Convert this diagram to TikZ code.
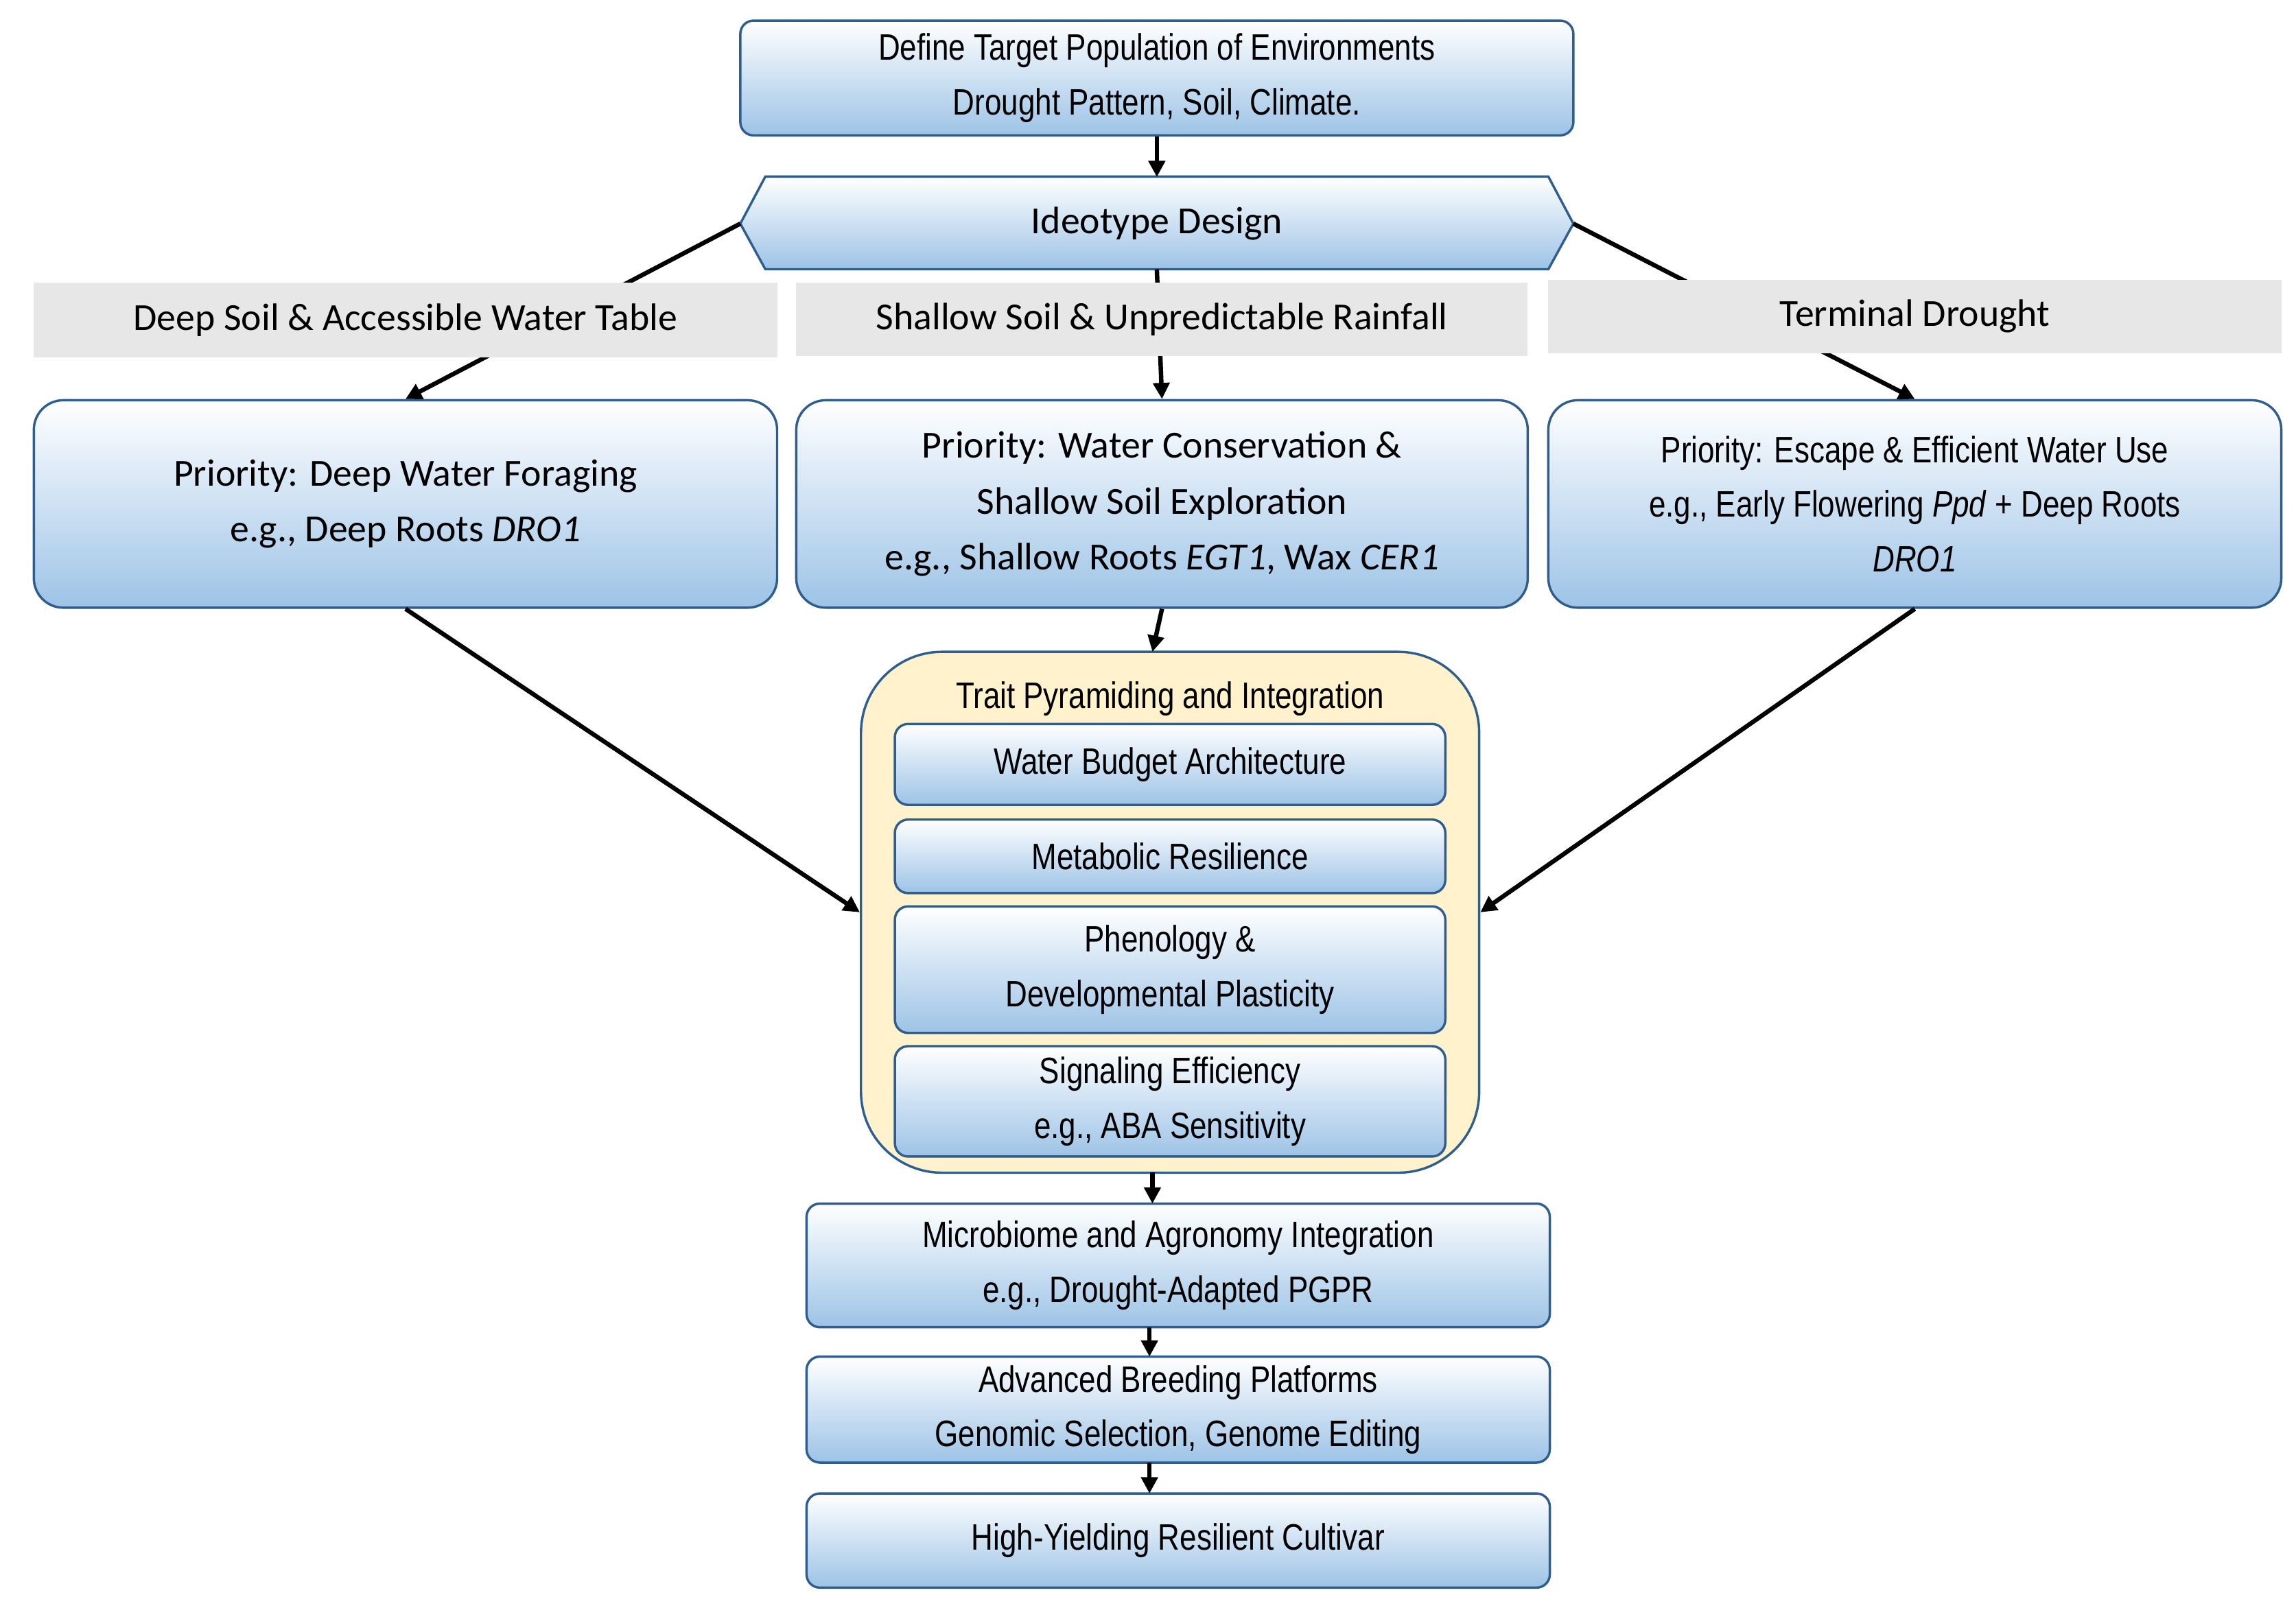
\documentclass[tikz,border=0pt]{standalone}
\usepackage{fontspec}
\setmainfont{Carlito}
\newfontfamily\nar{Liberation Sans}[FakeStretch=0.82]
\usetikzlibrary{arrows.meta}
\definecolor{bord}{HTML}{2E5D8E}
\definecolor{bluebot}{HTML}{9DC3E6}
\definecolor{graylab}{HTML}{E7E7E7}
\definecolor{yell}{HTML}{FFF2CC}
\begin{document}
\begin{tikzpicture}[x=1pt,y=-1pt,
  box/.style={draw=bord,line width=1.6pt,rounded corners=9pt,top color=white,bottom color=bluebot,align=center,font=\nar\fontsize{25}{37}\selectfont,inner sep=0pt},
  pbox/.style={box,rounded corners=20pt},
  glab/.style={fill=graylab,inner sep=0pt,font=\fontsize{26}{32}\selectfont},
  arr/.style={line width=3pt,-{Triangle[length=11pt,width=11pt]}}]
\useasboundingbox (0,0) rectangle (1560,1085);
% top
\node[box,minimum width=566pt,minimum height=78pt] (b1) at (786,53) {Define Target Population of Environments\\Drought Pattern, Soil, Climate.};
% hexagon
\coordinate (hw) at (503,152); \coordinate (he) at (1069,152);
\path[draw=bord,line width=1.6pt,top color=white,bottom color=bluebot] (hw) -- (520,120) -- (1052,120) -- (he) -- (1052,183) -- (520,183) -- cycle;
\node[font=\fontsize{26}{32}\selectfont,minimum width=500pt,minimum height=63pt,inner sep=0pt] (hex) at (786,152) {Ideotype Design};
\draw[arr] (b1.south) -- (hex.north);
% priority boxes
\node[pbox,font=\fontsize{26}{38}\selectfont,minimum width=505pt,minimum height=141pt] (p1) at (275.5,342.5) {Priority: Deep Water Foraging\\e.g., Deep Roots \textit{DRO1}};
\node[pbox,font=\fontsize{26}{38}\selectfont,minimum width=497pt,minimum height=141pt] (p2) at (789.5,342.5) {Priority: Water Conservation \&\\Shallow Soil Exploration\\e.g., Shallow Roots \textit{EGT1}, Wax \textit{CER1}};
\node[pbox,minimum width=498pt,minimum height=141pt] (p3) at (1301,342.5) {Priority: Escape \& Efficient Water Use\\e.g., Early Flowering \textit{Ppd} + Deep Roots\\\textit{DRO1}};
\draw[arr] (hw) -- (p1.north);
\draw[arr] (786,183) -- (p2.north);
\draw[arr] (he) -- (p3.north);
% gray labels
\node[glab,minimum width=505pt,minimum height=51pt] (g1) at (275.5,217.5) {Deep Soil \& Accessible Water Table};
\node[glab,minimum width=497pt,minimum height=50pt] (g2) at (789.5,217) {Shallow Soil \& Unpredictable Rainfall};
\node[glab,minimum width=498pt,minimum height=50pt] (g3) at (1301,215) {Terminal Drought};
% container
\node[draw=bord,line width=1.6pt,fill=yell,rounded corners=55pt,minimum width=420pt,minimum height=354pt] (tp) at (795,620) {};
\node[font=\nar\fontsize{25}{32}\selectfont,anchor=center] (tpt) at (795,475) {Trait Pyramiding and Integration};
\node[box,minimum width=374pt,minimum height=55pt] (t1) at (795,519.5) {Water Budget Architecture};
\node[box,minimum width=374pt,minimum height=50pt] (t2) at (795,582) {Metabolic Resilience};
\node[box,minimum width=374pt,minimum height=86pt] (t3) at (795,659) {Phenology \&\\Developmental Plasticity};
\node[box,minimum width=374pt,minimum height=75pt] (t4) at (795,748.5) {Signaling Efficiency\\e.g., ABA Sensitivity};
\draw[arr] (p2.south) -- (783,443);
\draw[arr] (p1.south) -- (tp.west);
\draw[arr] (p3.south) -- (tp.east);
% bottom chain
\node[box,minimum width=505pt,minimum height=84pt] (m1) at (800.5,860) {Microbiome and Agronomy Integration\\e.g., Drought-Adapted PGPR};
\node[box,minimum width=505pt,minimum height=72pt] (m2) at (800.5,958) {Advanced Breeding Platforms\\Genomic Selection, Genome Editing};
\node[box,minimum width=505pt,minimum height=64pt] (m3) at (800.5,1047) {High-Yielding Resilient Cultivar};
\draw[arr] (783,797) -- (783,818);
\draw[arr] (781,902) -- (781,922);
\draw[arr] (781,994) -- (781,1015);
\end{tikzpicture}
\end{document}
